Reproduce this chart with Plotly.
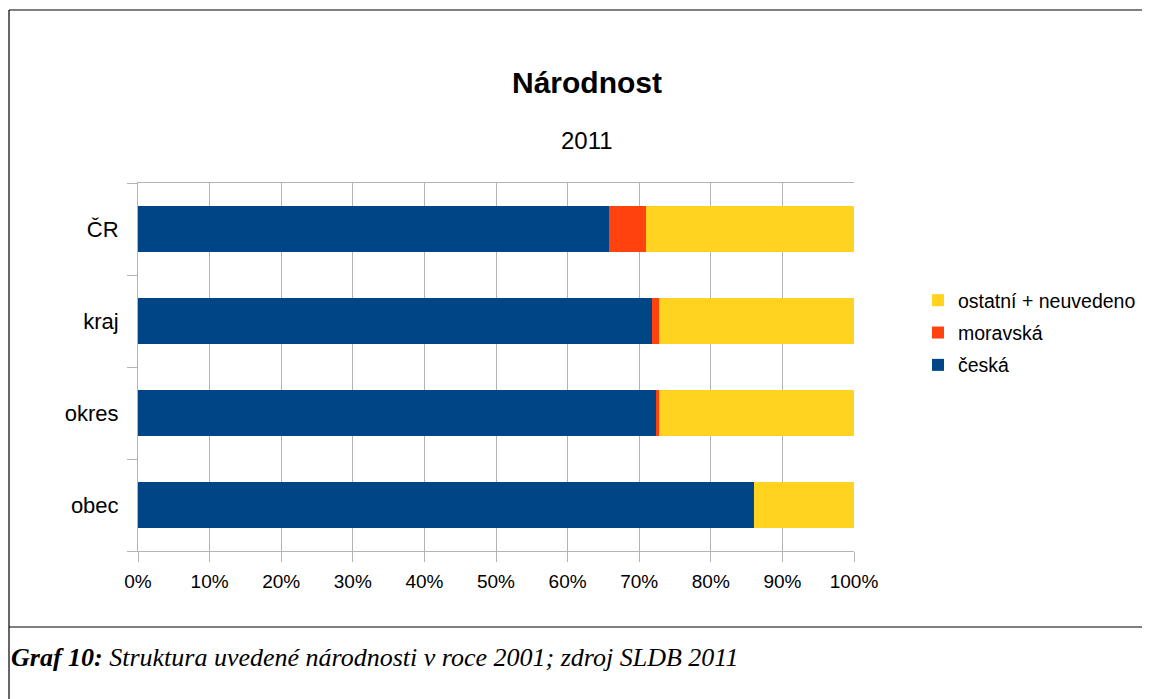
import plotly.graph_objects as go

categories = ["ČR", "kraj", "okres", "obec"]
ceska = [65.8, 71.8, 72.3, 86.0]
moravska = [5.1, 1.0, 0.5, 0.0]
ostatni = [29.1, 27.2, 27.2, 14.0]
series_names = ["česká", "moravská", "ostatní + neuvedeno"]
colors = ["#004586", "#ff420e", "#ffd320"]
tick_vals = [0, 10, 20, 30, 40, 50, 60, 70, 80, 90, 100]
tick_text = [f"{v}%" for v in tick_vals]

OFF = 8  # browser body margin
W, H = 1150 - OFF, 699 - OFF
L, R, T, B = 138 - OFF, 854 - OFF, 183 - OFF, 551 - OFF
pw, ph = R - L, B - T

def px(x):
    return (x - OFF - L) / pw

def py(y):
    return (B - (y - OFF)) / ph

fig = go.Figure()
series = [ceska, moravska, ostatni]
for i, (name, vals) in enumerate(zip(series_names, series)):
    fig.add_trace(go.Bar(
        y=categories, x=vals, name=name, orientation="h",
        marker=dict(color=colors[i], line=dict(width=0)),
        legendgroup=name, legendrank=1000 - i, width=0.5,
    ))

fig.update_layout(
    width=W, height=H,
    margin=dict(l=L, r=W - R, t=T, b=H - B, pad=0, autoexpand=False),
    barmode="stack",
    plot_bgcolor="white", paper_bgcolor="white",
    font=dict(family="Liberation Sans, Arial, sans-serif", size=19, color="#000000"),
    legend=dict(
        x=px(918), y=py(333), xanchor="left", yanchor="middle",
        traceorder="grouped", tracegroupgap=4,
        font=dict(size=19.5), bgcolor="rgba(0,0,0,0)",
    ),
    xaxis=dict(
        range=[0, 100], tickvals=tick_vals, ticktext=tick_text,
        showgrid=True, gridcolor="#b3b3b3", gridwidth=1,
        ticks="outside", ticklen=10, tickcolor="#b3b3b3",
        showline=True, linecolor="#b3b3b3", mirror=True,
        zeroline=False, fixedrange=True, ticklabelstandoff=3,
        tickfont=dict(size=19),
    ),
    yaxis=dict(
        categoryorder="array", categoryarray=categories[::-1],
        showgrid=False, ticks="outside", ticklen=10, tickcolor="#b3b3b3",
        tickson="boundaries", showline=True, linecolor="#b3b3b3",
        zeroline=False, fixedrange=True, ticklabelstandoff=14,
        tickfont=dict(size=22),
    ),
    showlegend=True,
)

fig.add_annotation(text="<b>Národnost</b>", x=px(587), y=py(82), xref="paper", yref="paper",
                   showarrow=False, font=dict(size=30), xanchor="center", yanchor="middle")
fig.add_annotation(text="2011", x=px(587), y=py(140), xref="paper", yref="paper",
                   showarrow=False, font=dict(size=24), xanchor="center", yanchor="middle")
fig.add_annotation(
    text="<b><i>Graf 10:</i></b><i> Struktura uvedené národnosti v roce 2001; zdroj SLDB 2011</i>",
    x=px(9), y=py(657), xref="paper", yref="paper", showarrow=False,
    font=dict(family="Liberation Serif, Times New Roman, serif", size=26),
    xanchor="left", yanchor="middle",
)

line = dict(color="#000000", width=1.2)
fig.add_shape(type="line", xref="paper", yref="paper", x0=px(9), x1=px(1150), y0=py(10), y1=py(10), line=line)
fig.add_shape(type="line", xref="paper", yref="paper", x0=px(9), x1=px(9), y0=py(10), y1=py(699), line=line)
fig.add_shape(type="line", xref="paper", yref="paper", x0=px(9), x1=px(1150), y0=py(627), y1=py(627), line=line)

fig.write_html("out.html")
